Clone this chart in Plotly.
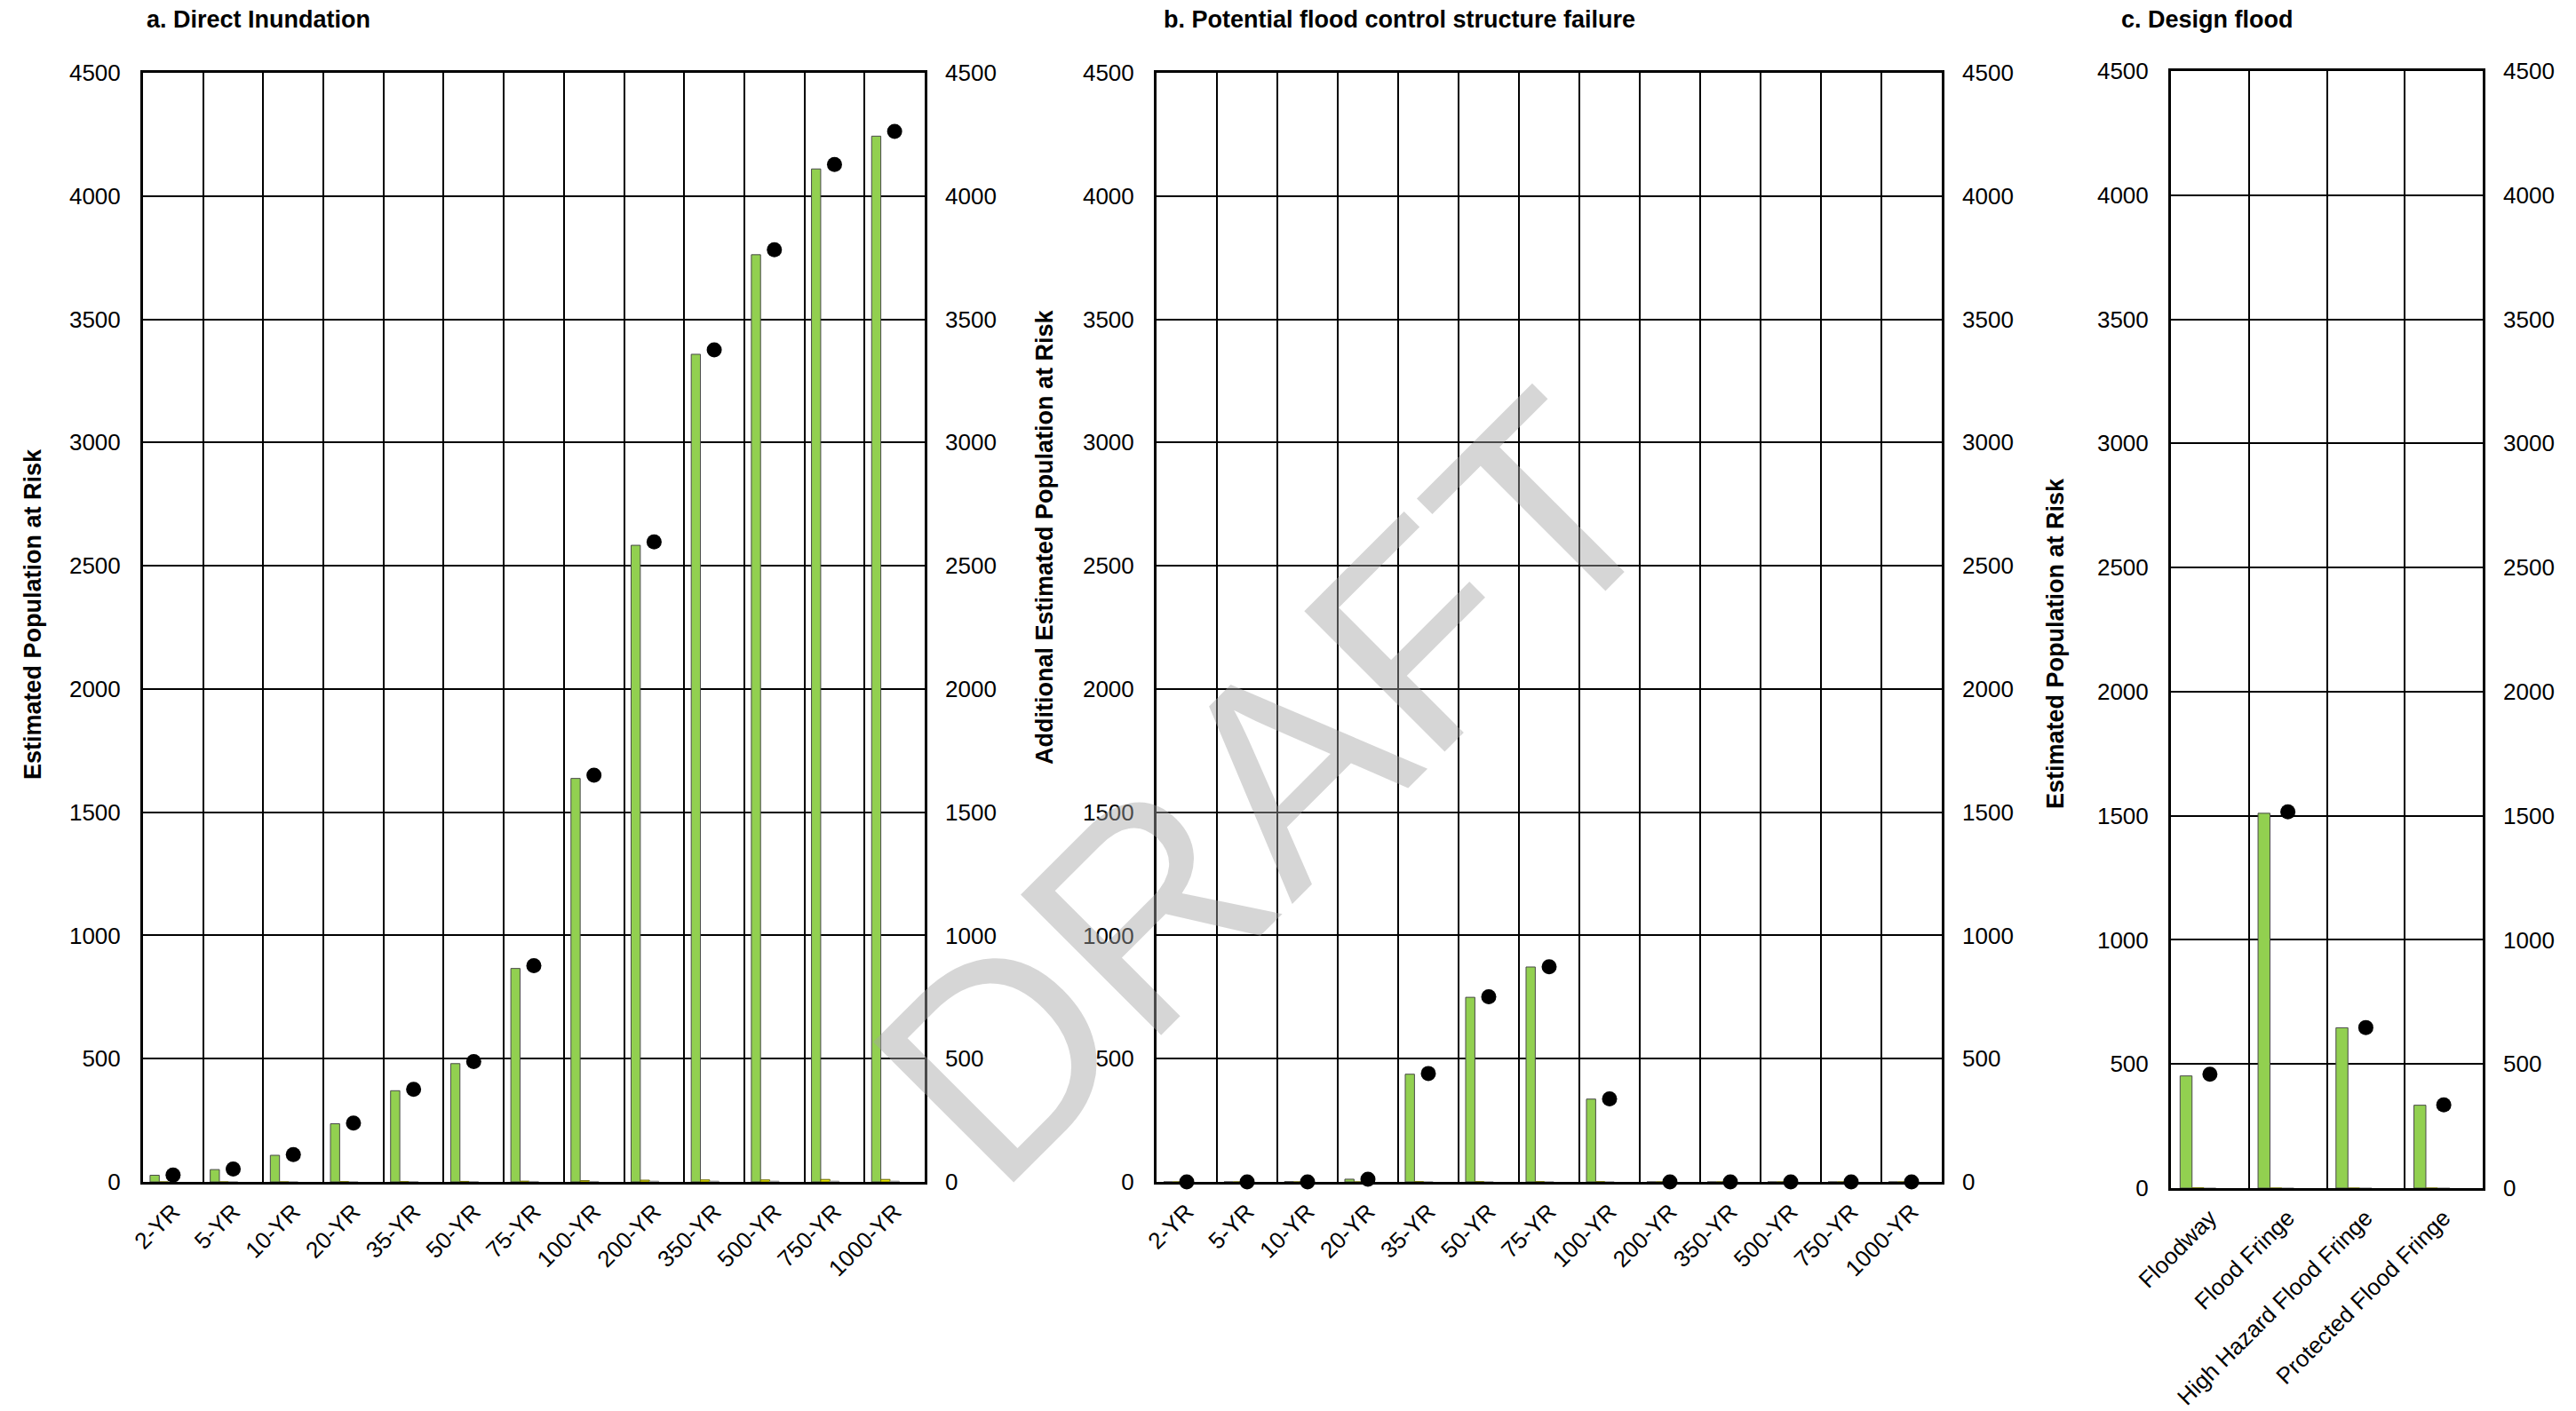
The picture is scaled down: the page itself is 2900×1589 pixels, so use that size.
import plotly.graph_objects as go

# ---- data -------------------------------------------------------------
return_periods = ["2-YR", "5-YR", "10-YR", "20-YR", "35-YR", "50-YR", "75-YR",
                  "100-YR", "200-YR", "350-YR", "500-YR", "750-YR", "1000-YR"]

# a. Direct inundation
direct_main = [27, 50, 108, 236, 370, 480, 866, 1637, 2583, 3358, 3762, 4110, 4243]
direct_minor = [0, 0, 0, 1, 1, 2, 3, 5, 7, 8, 8, 10, 10]
direct_other = [0, 0, 0, 0, 1, 1, 2, 2, 3, 3, 3, 3, 3]
direct_total = [28, 52, 111, 239, 376, 488, 877, 1650, 2597, 3376, 3782, 4128, 4262]

# b. Potential flood control structure failure
failure_main = [0, 0, 1, 11, 437, 749, 872, 336, 0, 0, 0, 0, 0]
failure_minor = [0, 0, 0, 0, 1, 1, 1, 1, 0, 0, 0, 0, 0]
failure_other = [0, 0, 0, 0, 0, 0, 0, 0, 0, 0, 0, 0, 0]
failure_total = [0, 0, 0, 11, 440, 751, 873, 337, 0, 0, 0, 0, 0]

# c. Design flood
zones = ["Floodway", "Flood Fringe", "High Hazard Flood Fringe", "Protected Flood Fringe"]
design_main = [452, 1510, 646, 334]
design_minor = [1, 0, 0, 0]
design_other = [0, 0, 0, 0]
design_total = [459, 1516, 647, 335]

y_ticks = [0, 500, 1000, 1500, 2000, 2500, 3000, 3500, 4000, 4500]

# ---- styling ----------------------------------------------------------
W, H = 2900, 1589
FONT = "Liberation Sans, Arial, sans-serif"
GREEN = "#92D050"
YELLOW = "#E8E800"
GREY = "#C8C8C8"
BAR_W = 0.153          # each bar slot as a fraction of a category
TICK_FONT = dict(family=FONT, size=26, color="black")
XTICK_FONT = dict(family=FONT, size=26, color="black")


def px_x(p):
    return p / W


def px_y(p):
    return 1 - p / H


panels = [
    # (categories, main, minor, other, total, x-domain px, y-domain px)
    (return_periods, direct_main, direct_minor, direct_other, direct_total,
     (161, 1041), (82, 1331)),
    (return_periods, failure_main, failure_minor, failure_other, failure_total,
     (1302, 2186), (82, 1331)),
    (zones, design_main, design_minor, design_other, design_total,
     (2444, 2795), (80, 1338)),
]

fig = go.Figure()
layout = {}

for i, (cats, main, minor, other, total, xd, yd) in enumerate(panels):
    xa = "x" if i == 0 else f"x{i + 1}"
    ya_l = f"y{2 * i + 1}" if i else "y"
    ya_r = f"y{2 * i + 2}"
    xkey = "xaxis" if i == 0 else f"xaxis{i + 1}"
    ylkey = "yaxis" if i == 0 else f"yaxis{2 * i + 1}"
    yrkey = f"yaxis{2 * i + 2}"

    for vals, color, line_color, slot in [
        (main, GREEN, "#4A4A4A", 0),
        (minor, YELLOW, "#6B6B00", 1),
        (other, GREY, "#9A9A9A", 2),
    ]:
        fig.add_trace(go.Bar(
            x=cats, y=vals, xaxis=xa, yaxis=ya_l,
            width=BAR_W, offset=-2.5 * BAR_W + slot * BAR_W,
            marker=dict(color=color, line=dict(color=line_color, width=1)),
            showlegend=False,
        ))

    fig.add_trace(go.Scatter(
        x=cats, y=total, xaxis=xa, yaxis=ya_r, mode="markers",
        marker=dict(color="black", size=17),
        showlegend=False, cliponaxis=False,
    ))

    layout[xkey] = dict(
        domain=[px_x(xd[0]), px_x(xd[1])], anchor=ya_l,
        type="category", range=[-0.5, len(cats) - 0.5],
        tickson="boundaries", showgrid=True, gridcolor="black", gridwidth=2,
        showline=True, linecolor="black", linewidth=3, mirror=True,
        ticks="", tickangle=-45, tickfont=XTICK_FONT, ticklabelstandoff=5,
        automargin=False, zeroline=False,
    )
    layout[ylkey] = dict(
        domain=[px_y(yd[1]), px_y(yd[0])], anchor=xa,
        range=[0, 4500], tickvals=y_ticks, showgrid=True,
        gridcolor="black", gridwidth=2, zeroline=False,
        showline=True, linecolor="black", linewidth=3, mirror=True,
        ticks="", tickfont=TICK_FONT, ticklabelstandoff=17, automargin=False,
    )
    layout[yrkey] = dict(
        domain=[px_y(yd[1]), px_y(yd[0])], anchor=xa, overlaying=ya_l,
        side="right", range=[0, 4500], tickvals=y_ticks, showgrid=False,
        zeroline=False, showline=False, ticks="", tickfont=TICK_FONT,
        ticklabelstandoff=22, automargin=False,
    )

annotations = []
for text, x in [("a. Direct Inundation", 163),
                ("b. Potential flood control structure failure", 1308),
                ("c. Design flood", 2386)]:
    annotations.append(dict(
        text=f"<b>{text}</b>", x=px_x(x), y=px_y(22), xref="paper", yref="paper",
        xanchor="left", yanchor="middle", showarrow=False,
        font=dict(family=FONT, size=27, color="black"),
    ))

for text, x, y in [("Estimated Population at Risk", 37, 692),
                   ("Additional Estimated Population at Risk", 1176, 605),
                   ("Estimated Population at Risk", 2314, 725)]:
    annotations.append(dict(
        text=f"<b>{text}</b>", x=px_x(x), y=px_y(y), xref="paper", yref="paper",
        xanchor="center", yanchor="middle", textangle=-90, showarrow=False,
        font=dict(family=FONT, size=27, color="black"),
    ))

# watermark
annotations.append(dict(
    text="DRAFT", x=px_x(1425), y=px_y(888), xref="paper", yref="paper",
    xanchor="center", yanchor="middle", textangle=-45, showarrow=False,
    font=dict(family=FONT, size=325, color="rgba(165,165,165,0.45)"),
))

fig.update_layout(
    width=W, height=H,
    margin=dict(l=0, r=0, t=0, b=0),
    paper_bgcolor="white", plot_bgcolor="white",
    barmode="overlay", showlegend=False,
    annotations=annotations,
    font=dict(family=FONT, color="black"),
    **layout,
)

fig.write_html("out.html")
